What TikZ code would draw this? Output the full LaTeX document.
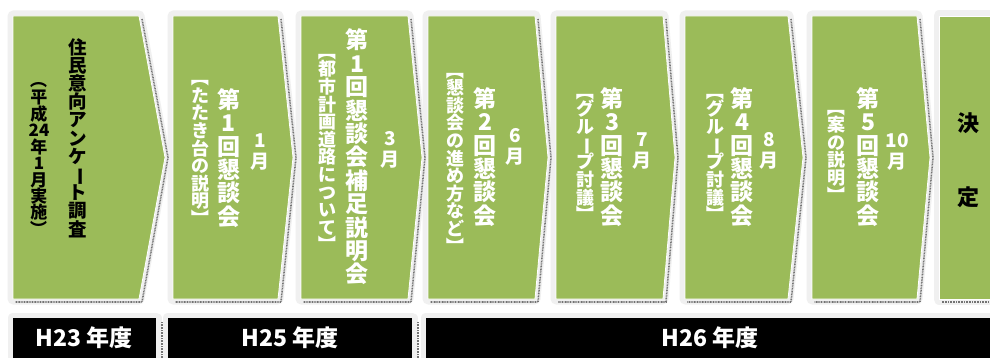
\documentclass[tikz,border=0pt]{standalone}
\usepackage{fontspec}
\setmainfont{Noto Sans CJK JP}
\usepackage{tikz}
\usetikzlibrary{positioning}

\definecolor{chevgreen}{HTML}{9BBB59}
% one glyph turned for vertical writing
\newcommand\vg[1]{\smash{\makebox[1em]{\rotatebox[origin=c]{-90}{#1}}}}

\begin{document}
\begin{tikzpicture}[x=1pt, y=-1pt,
  halo/.style={draw=black!6, line width=11pt, line join=round},
  shadowline/.style={draw=black!55, line width=1.6pt, dash pattern=on 0.9pt off 0.7pt},
  chev/.style={fill=chevgreen, draw=white, line width=0.8pt},
  tate/.style={align=center, inner sep=0pt},
  titlecol/.style={tate, font=\fontsize{18.5}{18.2}\selectfont\bfseries},
  datecol/.style={tate, font=\fontsize{17}{16.4}\selectfont\bfseries},
  meetcol/.style={tate, text=white, font=\fontsize{23}{23.4}\selectfont\bfseries},
  notecol/.style={tate, text=white, font=\fontsize{18}{17.6}\selectfont\bfseries},
  monthcol/.style={tate, text=white, font=\fontsize{19}{20.5}\selectfont\bfseries},
  yearlabel/.style={text=white, font=\fontsize{23}{23}\selectfont\bfseries}]
  \useasboundingbox[fill=white] (0,0) rectangle (990,358);

  % chevrons
  \foreach \l/\r/\t in {13/139/165, 173/278/293, 301/408/422, 428/535/548, 556/663/675, 685/788/803, 812/917/930}
    \draw[halo] (\l,16) -- (\r,16) -- (\t,157.5) -- (\r,299) -- (\l,299) -- cycle;
  \draw[halo] (1000,16) -- (939,16) -- (939,299) -- (1000,299);
  \foreach \l/\r/\t in {13/139/165, 173/278/293, 301/408/422, 428/535/548, 556/663/675, 685/788/803, 812/917/930} {
    \draw[shadowline] ({\r+3},19) -- ({\t+3},157.5) -- ({\r+3},302) -- ({\l+2},302);
    \draw[chev] (\l,16) -- (\r,16) -- (\t,157.5) -- (\r,299) -- (\l,299) -- cycle;
  }
  \draw[shadowline] (1000,302) -- (941,302);
  \draw[chev] (1001,16) -- (939,16) -- (939,299) -- (1001,299);

  % year bars
  \foreach \l/\r in {13/156, 168/412, 426/1001}
    \draw[halo] (\l,318) rectangle (\r,370);
  \foreach \l/\r in {13/156, 168/412} {
    \draw[shadowline] ({\r+6},322) -- ({\r+6},358);
  }
  \foreach \l/\r in {13/156, 168/412, 426/1001}
    \fill[black] (\l,318) rectangle (\r,370);

  \node[yearlabel] (h23) at (84,338) {H23 年度};
  \node[yearlabel] (h25) at (290,338) {H25 年度};
  \node[yearlabel] (h26) at (710,338) {H26 年度};

  % survey
  \node[titlecol] (survey) at (78,138) {住\\民\\意\\向\\ア\\ン\\ケ\\\vg{ー}\\ト\\調\\査};
  \node[datecol] (surveydate) at (39,161) {\vg{（}\\平\\成\\24\\年\\1\\月\\実\\施\\\vg{）}};

  % meetings
  \node[monthcol] (mon1) at (260,152) {1\\月};
  \node[meetcol] (mtg1) at (229,158) {第\\1\\回\\懇\\談\\会};
  \node[notecol] (note1) at (200,155) {\vg{【}\\た\\た\\き\\台\\の\\説\\明\\\vg{】}};

  \node[monthcol] (mon2) at (390,150) {3\\月};
  \node[meetcol] (mtg2) at (357,157) {第\\1\\回\\懇\\談\\会\\補\\足\\説\\明\\会};
  \node[notecol] (note2) at (327,155) {\vg{【}\\都\\市\\計\\画\\道\\路\\に\\つ\\い\\て\\\vg{】}};

  \node[monthcol] (mon3) at (515,147) {6\\月};
  \node[meetcol] (mtg3) at (485,157) {第\\2\\回\\懇\\談\\会};
  \node[notecol] (note3) at (455,165) {\vg{【}\\懇\\談\\会\\の\\進\\め\\方\\な\\ど\\\vg{】}};

  \node[monthcol] (mon4) at (642,151) {7\\月};
  \node[meetcol] (mtg4) at (612,157) {第\\3\\回\\懇\\談\\会};
  \node[notecol] (note4) at (585,160) {\vg{【}\\グ\\ル\\\vg{ー}\\プ\\討\\議\\\vg{】}};

  \node[monthcol] (mon5) at (769,151) {8\\月};
  \node[meetcol] (mtg5) at (742,157) {第\\4\\回\\懇\\談\\会};
  \node[notecol] (note5) at (715,160) {\vg{【}\\グ\\ル\\\vg{ー}\\プ\\討\\議\\\vg{】}};

  \node[monthcol] (mon6) at (897,152) {10\\月};
  \node[meetcol] (mtg6) at (868,157) {第\\5\\回\\懇\\談\\会};
  \node[notecol] (note6) at (836,158) {\vg{【}\\案\\の\\説\\明\\\vg{】}};

  % decision
  \node[tate, font=\fontsize{22}{74}\selectfont\bfseries] (decide) at (968,160) {決\\定};
\end{tikzpicture}
\end{document}
